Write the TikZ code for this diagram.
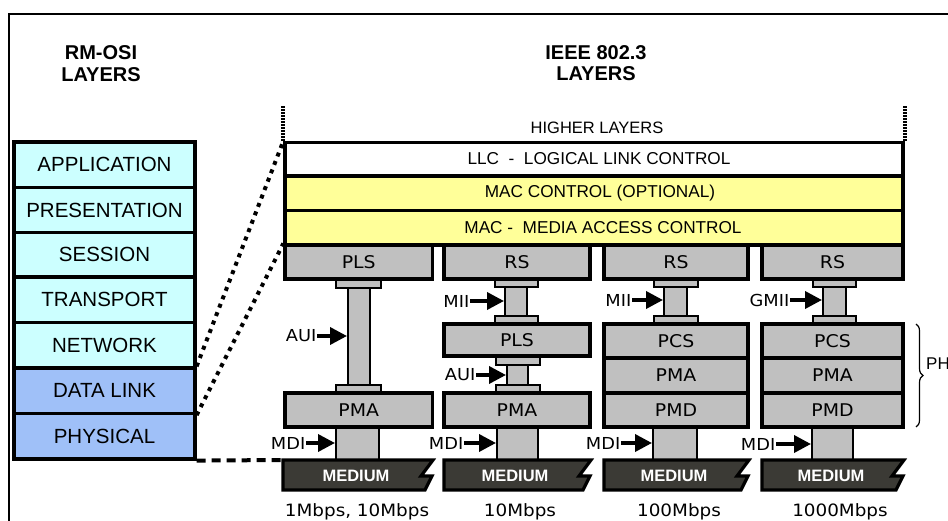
\documentclass[tikz,border=0pt]{standalone}
\usepackage{fontspec}
\setmainfont{Liberation Sans}
\newfontfamily\dvs[FakeStretch=1.08]{DejaVu Sans}
\usetikzlibrary{arrows.meta,decorations.pathreplacing}
\definecolor{cyanL}{HTML}{CCFFFF}
\definecolor{blueL}{HTML}{9FC0F8}
\definecolor{yelL}{HTML}{FFFF99}
\definecolor{grayL}{HTML}{C0C0C0}
\definecolor{medD}{HTML}{3B3A35}
\newcommand{\bx}[7]{\node[#6, minimum width={(#4-#2)*1pt}, minimum height={(#5-#3)*1pt}] (#1) at ({(#2+#4)/2},{(#3+#5)/2}) {#7};}
\newcommand{\medshp}[2]{\draw[medshape] (#1,460) -- ({#2+1},460) -- ({#2-11},476) -- (#2,476) -- ({#2-7},490) -- (#1,490) -- cycle;}
\begin{document}
\begin{tikzpicture}[x=1pt,y=-1pt,
  osi/.style={draw, line width=3.2pt, inner sep=0pt, font=\fontsize{20.5}{24}\selectfont},
  lay/.style={draw, line width=3.2pt, inner sep=0pt},
  laytxt/.style={inner sep=0pt, font=\fontsize{17.2}{20}\selectfont},
  sub/.style={draw, line width=3.2pt, fill=grayL, inner sep=0pt, font=\dvs\fontsize{17.5}{20}\selectfont},
  flange/.style={draw, line width=1.8pt, fill=grayL, inner sep=0pt},
  shaft/.style={draw, line width=2pt, fill=grayL, inner sep=0pt},
  iflab/.style={font=\dvs\fontsize{16.5}{19}\selectfont, inner sep=0.5pt, anchor=east},
  arr/.style={line width=3.6pt, -{Triangle[length=17pt,width=17pt]}},
  medshape/.style={draw, line width=3.2pt, fill=medD, line join=miter},
  medtxt/.style={text=white, inner sep=0pt, font=\bfseries\fontsize{16.5}{20}\selectfont},
  speed/.style={font=\dvs\fontsize{17}{20}\selectfont},
  head/.style={font=\bfseries\fontsize{20}{23}\selectfont, align=center},
  dotc/.style={line width=4pt, dash pattern=on 4pt off 5pt},
  dashc/.style={line width=4pt, dash pattern=on 9pt off 6pt},
  vdot/.style={line width=4pt, dash pattern=on 1.5pt off 1.5pt}
]
\useasboundingbox (0,0) rectangle (948,521);
\clip (0,0) rectangle (948,521);
\fill[white] (0,0) rectangle (948,521);
% frame
\draw[line width=1.8pt] (9,530) -- (9,14) -- (960,14);
% headings
\node[head] (hosi) at (101,53) {RM-OSI};
\node[head] (hosi2) at (101,75) {LAYERS};
\node[head] (hieee) at (596,53) {IEEE 802.3};
\node[head] (hieee2) at (596,74) {LAYERS};
% OSI stack
\bx{app}{14}{142}{195}{187.5}{osi,fill=cyanL}{APPLICATION}
\bx{pre}{14}{187.5}{195}{232.5}{osi,fill=cyanL}{PRESENTATION}
\bx{ses}{14}{232.5}{195}{277}{osi,fill=cyanL}{SESSION}
\bx{tra}{14}{277}{195}{322.5}{osi,fill=cyanL}{TRANSPORT}
\bx{net}{14}{322.5}{195}{368}{osi,fill=cyanL}{NETWORK}
\bx{dl}{14}{368}{195}{413.5}{osi,fill=blueL}{DATA LINK}
\bx{phy}{14}{413.5}{195}{459}{osi,fill=blueL}{PHYSICAL}
% higher layers
\node[font=\fontsize{16.5}{20}\selectfont] (hl) at (597,128) {HIGHER LAYERS};
\bx{llc}{285}{142.5}{903}{176}{lay,fill=white}{}
\bx{macc}{285}{176}{903}{210.5}{lay,fill=yelL}{}
\bx{mac}{285}{210.5}{903}{245}{lay,fill=yelL}{}
\node[laytxt] (llct) at (599,159) {LLC\ \ -\ \ LOGICAL LINK CONTROL};
\node[laytxt] (macct) at (600,193.5) {MAC CONTROL (OPTIONAL)};
\node[laytxt] (mact) at (603,228) {MAC -\ \ MEDIA ACCESS CONTROL};
\draw[vdot] (llc.north west) -- ++(0,-35);
\draw[vdot] (llc.north east) -- ++(0,-35);
% column 1
\bx{f1a}{336}{279}{381}{288}{flange}{}
\bx{s1}{348}{288}{370}{385}{shaft}{}
\bx{f1b}{336}{385}{381}{393}{flange}{}
\bx{m1}{336}{427}{379}{460}{shaft}{}
\bx{t1}{285}{245}{432.5}{279}{sub}{PLS}
\bx{p1}{285}{393}{432.5}{427}{sub}{PMA}
% column 2
\bx{f2a}{495}{279}{538}{287}{flange}{}
\bx{s2a}{505}{287}{527}{316}{shaft}{}
\bx{f2b}{495}{316}{538}{324}{flange}{}
\bx{f2c}{496}{356}{540}{365}{flange}{}
\bx{s2b}{507}{365}{528}{385}{shaft}{}
\bx{f2d}{496}{385}{540}{393}{flange}{}
\bx{m2}{497}{427}{538}{460}{shaft}{}
\bx{t2}{444}{245}{590}{279}{sub}{RS}
\bx{pl2}{444}{324}{590}{356}{sub}{PLS}
\bx{p2}{444}{393}{590}{427}{sub}{PMA}
% column 3
\bx{f3a}{654}{279}{698}{287}{flange}{}
\bx{s3}{664}{287}{687}{316}{shaft}{}
\bx{f3b}{654}{316}{698}{324}{flange}{}
\bx{m3}{653}{427}{697}{460}{shaft}{}
\bx{t3}{604}{245}{748}{279}{sub}{RS}
\bx{pcs3}{604}{324}{748}{358}{sub}{PCS}
\bx{pma3}{604}{358}{748}{393}{sub}{PMA}
\bx{pmd3}{604}{393}{748}{427}{sub}{PMD}
% column 4
\bx{f4a}{813}{279}{856}{287}{flange}{}
\bx{s4}{823}{287}{846}{316}{shaft}{}
\bx{f4b}{813}{316}{856}{324}{flange}{}
\bx{m4}{812}{427}{853}{460}{shaft}{}
\bx{t4}{762}{245}{903}{279}{sub}{RS}
\bx{pcs4}{762}{324}{903}{358}{sub}{PCS}
\bx{pma4}{762}{358}{903}{393}{sub}{PMA}
\bx{pmd4}{762}{393}{903}{427}{sub}{PMD}
% media
\medshp{283}{432}
\node[medtxt] (med1) at (356,476) {MEDIUM};
\medshp{444}{590}
\node[medtxt] (med2) at (515,476) {MEDIUM};
\medshp{604}{748}
\node[medtxt] (med3) at (674,476) {MEDIUM};
\medshp{762}{903}
\node[medtxt] (med4) at (831,476) {MEDIUM};
\coordinate (med1nw) at (283,460);
% speeds
\node[speed] (sp1) at (357,512) {1Mbps, 10Mbps};
\node[speed] (sp2) at (520,512) {10Mbps};
\node[speed] (sp3) at (679,512) {100Mbps};
\node[speed] (sp4) at (840,512) {1000Mbps};
% interface labels and arrows
\node[iflab] (aui1) at (317,336) {AUI};
\draw[arr] (aui1.east) -- (aui1.east -| s1.west);
\node[iflab] (mdi1) at (306,443) {MDI};
\draw[arr] (mdi1.east) -- (mdi1.east -| m1.west);
\node[iflab] (mii2) at (470,301) {MII};
\draw[arr] (mii2.east) -- (mii2.east -| s2a.west);
\node[iflab] (aui2) at (476,375) {AUI};
\draw[arr] (aui2.east) -- (aui2.east -| s2b.west);
\node[iflab] (mdi2) at (464,443) {MDI};
\draw[arr] (mdi2.east) -- (mdi2.east -| m2.west);
\node[iflab] (mii3) at (632,300) {MII};
\draw[arr] (mii3.east) -- (mii3.east -| s3.west);
\node[iflab] (mdi3) at (621,443) {MDI};
\draw[arr] (mdi3.east) -- (mdi3.east -| m3.west);
\node[iflab] (gmii4) at (790,300) {GMII};
\draw[arr] (gmii4.east) -- (gmii4.east -| s4.west);
\node[iflab] (mdi4) at (776,444) {MDI};
\draw[arr] (mdi4.east) -- (mdi4.east -| m4.west);
% brace
\coordinate (bt) at (916,324);
\coordinate (bb) at (916,427);
\draw[line width=1.2pt, decorate, decoration={brace, amplitude=7pt}] (bt) -- (bb);
\node[font=\fontsize{17}{20}\selectfont, anchor=west, inner sep=0pt] (phylab) at (926,364) {PHY};
% connectors OSI -> IEEE
\draw[dotc] (dl.north east) -- (llc.north west);
\draw[dotc] (dl.south east) -- (t1.north west);
\draw[dashc] (phy.south east) -- (med1nw);
\end{tikzpicture}
\end{document}
